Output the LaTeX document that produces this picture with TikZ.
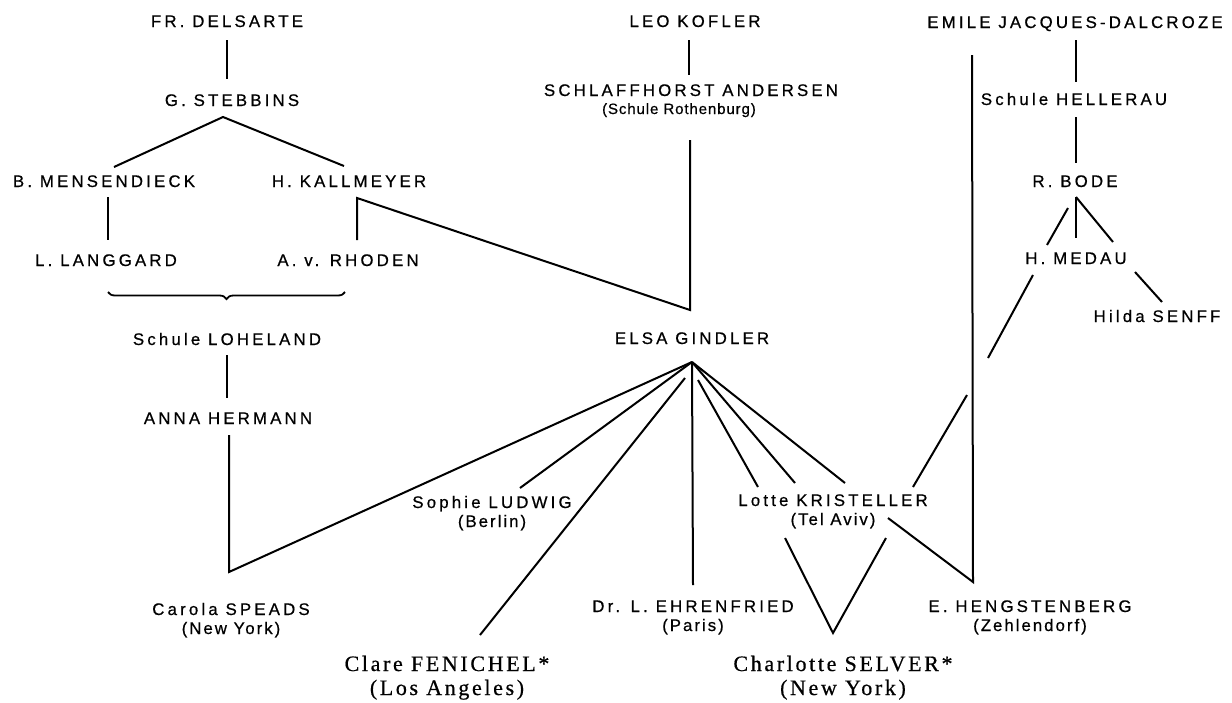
\documentclass[tikz,border=0pt]{standalone}
\usepackage{fontspec}
\usetikzlibrary{decorations.pathreplacing}
\newfontfamily\labfont[LetterSpace=19,FakeBold=0.6]{Liberation Sans}
\newfontfamily\subfont[LetterSpace=12,FakeBold=0.6]{Liberation Sans}
\newfontfamily\rothfont[LetterSpace=6,FakeBold=0.6]{Liberation Sans}
\newfontfamily\bigfont[LetterSpace=12,FakeBold=0.6]{Liberation Serif}
\tikzset{
  lab/.style={inner sep=0pt, anchor=base, align=center, font={\labfont\fontsize{16.8}{19}\selectfont}},
  sublab/.style={inner sep=0pt, anchor=base, align=center, font={\rothfont\fontsize{15}{18}\selectfont}},
  biglab/.style={inner sep=0pt, anchor=base, align=center, font={\bigfont\fontsize{22}{24}\selectfont}},
  link/.style={line width=2pt, line join=miter},
  bracelink/.style={line width=1.8pt, decorate, decoration={brace, mirror, amplitude=7pt}}
}
\newcommand\plc[1]{{\subfont #1}}
\begin{document}
\begin{tikzpicture}[x=1pt,y=-1pt]
\useasboundingbox (0,0) rectangle (1232,702);
\fill[white] (0,0) rectangle (1232,702);

% ---- nodes (two-line nodes are placed by the baseline of their last line) ----
\node[lab] (delsarte) at (227,27) {FR. DELSARTE};
\node[lab] (kofler) at (695,27) {LEO KOFLER};
\node[lab] (dalcroze) at (1075,28) {EMILE JACQUES-DALCROZE};
\node[lab] (stebbins) at (232,106) {G. STEBBINS};
\node[lab] (schlaff) at (691,96) {SCHLAFFHORST ANDERSEN};
\node[sublab] (rothenburg) at (679,114) {(Schule Rothenburg)};
\node[lab] (hellerau) at (1074,105) {Schule HELLERAU};
\node[lab] (mensendieck) at (104,187) {B. MENSENDIECK};
\node[lab] (kallmeyer) at (349,187) {H. KALLMEYER};
\node[lab] (bode) at (1075,187) {R. BODE};
\node[lab] (langgard) at (106,266) {L. LANGGARD};
\node[lab] (rhoden) at (348,266) {A. v. RHODEN};
\node[lab] (medau) at (1076,264) {H. MEDAU};
\node[lab] (senff) at (1157,322) {Hilda SENFF};
\node[lab] (loheland) at (227,345) {Schule LOHELAND};
\node[lab] (gindler) at (692,344) {ELSA GINDLER};
\node[lab] (hermann) at (228,424) {ANNA HERMANN};
\node[lab] (ludwig) at (492,527) {Sophie LUDWIG\\\plc{(Berlin)}};
\node[lab] (kristeller) at (833,525) {Lotte KRISTELLER\\\plc{(Tel Aviv)}};
\node[lab] (ehrenfried) at (693,631) {Dr. L. EHRENFRIED\\\plc{(Paris)}};
\node[lab] (hengstenberg) at (1030,631) {E. HENGSTENBERG\\\plc{(Zehlendorf)}};
\node[lab] (speads) at (231,634) {Carola SPEADS\\\plc{(New York)}};
\node[biglab] (fenichel) at (447,695) {Clare FENICHEL*\\(Los Angeles)};
\node[biglab] (selver) at (843,695) {Charlotte SELVER*\\(New York)};

% ---- connector end points ----
\coordinate (delS) at (227,40);   \coordinate (stbN) at (227,79);
\coordinate (stbA) at (223,117);  \coordinate (menN) at (114,167);
\coordinate (kalN) at (344,166);
\coordinate (menS) at (108,197);  \coordinate (lanN) at (108,240);
\coordinate (kalS) at (357,198);  \coordinate (rhoN) at (357,240);
\coordinate (kofS) at (689,40);   \coordinate (schN) at (689,75);
\coordinate (schS) at (690,140);  \coordinate (ginN) at (690,310);
\coordinate (brL) at (108,292);   \coordinate (brR) at (345,292);
\coordinate (lohS) at (227,355);  \coordinate (herN) at (227,398);
\coordinate (herS) at (229,435);  \coordinate (spdC) at (229,572);
\coordinate (ginA) at (692,362);
\coordinate (ludN) at (520,488);
\coordinate (fenA) at (685,378);  \coordinate (fenN) at (480,635);
\coordinate (ehrN) at (693,585);
\coordinate (lotA) at (698,380);  \coordinate (lotN) at (758,487);
\coordinate (kriN) at (795,483);  \coordinate (kriNE) at (845,483);
\coordinate (selL) at (785,538);  \coordinate (selN) at (833,633);
\coordinate (selR) at (886,538);
\coordinate (kriE) at (888,518);  \coordinate (henN) at (973,582);
\coordinate (dalL) at (972,55);
\coordinate (dalS) at (1076,40);  \coordinate (helN) at (1076,82);
\coordinate (helS) at (1076,117); \coordinate (bodN) at (1076,163);
\coordinate (bodA) at (1076,197); \coordinate (bodL) at (1068,208);
\coordinate (medNW) at (1047,245); \coordinate (medN) at (1076,238);
\coordinate (medNE) at (1113,242);
\coordinate (medSE) at (1135,272); \coordinate (senN) at (1162,302);
\coordinate (medSW) at (1033,275); \coordinate (gapA) at (988,358);
\coordinate (gapB) at (967,395);  \coordinate (kriNR) at (913,487);

% ---- connectors ----
\draw[link] (delS) -- (stbN);
\draw[link] (menN) -- (stbA) -- (kalN);
\draw[link] (menS) -- (lanN);
\draw[link] (rhoN) -- (kalS) -- (ginN) -- (schS);
\draw[link] (kofS) -- (schN);
\draw[bracelink] (brL) -- (brR);
\draw[link] (lohS) -- (herN);
\draw[link] (herS) -- (spdC) -- (ginA);
\draw[link] (ginA) -- (ludN);
\draw[link] (fenA) -- (fenN);
\draw[link] (ginA) -- (ehrN);
\draw[link] (lotA) -- (lotN);
\draw[link] (ginA) -- (kriN);
\draw[link] (ginA) -- (kriNE);
\draw[link] (selL) -- (selN) -- (selR);
\draw[link] (kriE) -- (henN) -- (dalL);
\draw[link] (dalS) -- (helN);
\draw[link] (helS) -- (bodN);
\draw[link] (bodL) -- (medNW);
\draw[link] (bodA) -- (medN);
\draw[link] (bodA) -- (medNE);
\draw[link] (medSE) -- (senN);
\draw[link] (medSW) -- (gapA);
\draw[link] (gapB) -- (kriNR);
\end{tikzpicture}
\end{document}
